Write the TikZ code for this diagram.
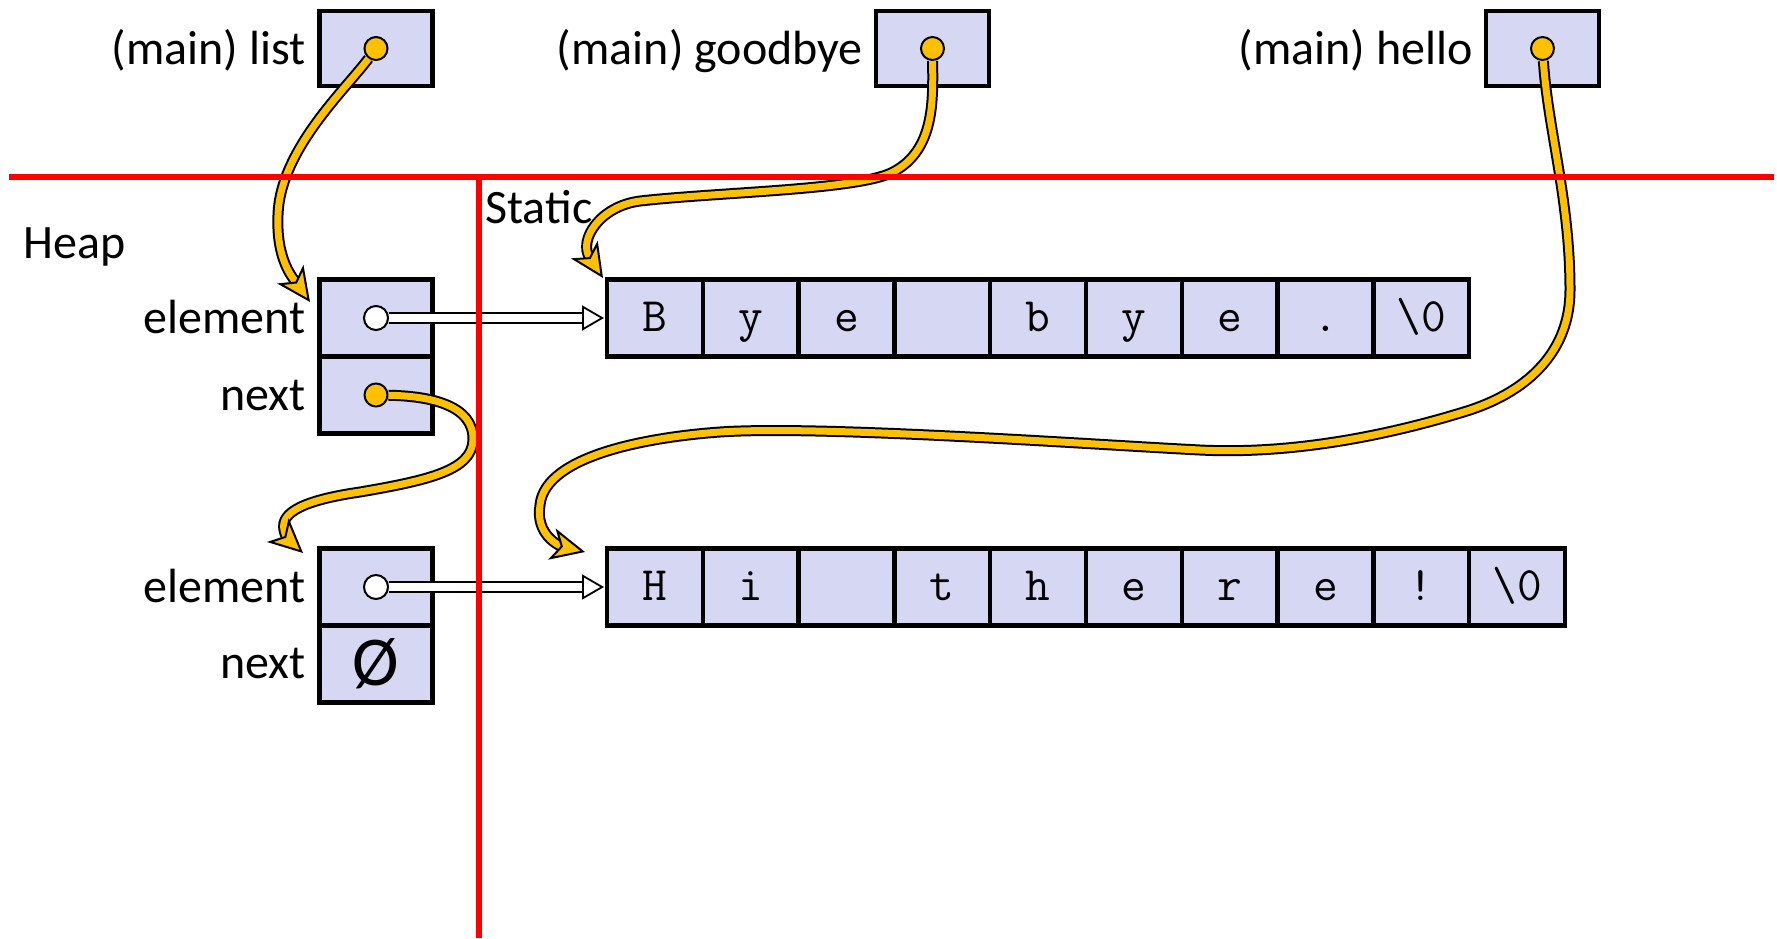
\documentclass[tikz,border=0pt]{standalone}
\usepackage{fontspec}
\setmainfont{Carlito}
\usetikzlibrary{arrows.meta,calc}
\definecolor{cellfill}{RGB}{214,216,243}
\definecolor{ptryellow}{RGB}{255,192,0}
\definecolor{memred}{RGB}{255,0,0}
\tikzset{
  cell/.style={draw=black, fill=cellfill, line width=2.25pt, rectangle, inner sep=0pt, outer sep=0pt,
    minimum width=47.9pt, minimum height=38.5pt, font=\ttfamily\fontsize{24}{24}\selectfont,
    text height=13pt, text depth=0pt},
  hbox/.style={draw=black, fill=cellfill, line width=2.25pt, rectangle, inner sep=0pt, outer sep=0pt,
    minimum width=56.5pt, minimum height=38.5pt},
  vbox/.style={hbox, minimum height=37.5pt},
  lbl/.style={inner sep=0pt, font=\fontsize{24}{24}\selectfont},
  ydot/.style={circle, fill=ptryellow, draw=black, line width=1pt, minimum size=11.5pt, inner sep=0pt},
  wdot/.style={circle, fill=white, draw=black, line width=1pt, minimum size=12pt, inner sep=0pt},
  ptr/.style={draw=ptryellow, line width=3.5pt,
    -{Stealth[length=17pt, width=16pt, inset=4.5pt, color=black, fill=ptryellow, line width=1pt]},
    preaction={draw=black, line width=5.5pt, arrows=-, shorten >=12pt}},
  dblshaft/.style={draw=black, line width=0.9pt, double=white, double distance=4pt},
  dblhead/.style={draw=black, line width=0.9pt, -{Triangle[length=11pt, width=12.5pt, fill=white]}},
  memline/.style={draw=memred, line width=2.6pt},
}
\begin{document}
\begin{tikzpicture}[x=0.5pt, y=-0.5pt]
\useasboundingbox (0,0) rectangle (1777,938);
\fill[white] (0,0) rectangle (1777,938);

% stack variables
\node[vbox] (list) at (376,48.5) {};
\node[vbox] (goodbye) at (932.5,48.5) {};
\node[vbox] (hello) at (1542.5,48.5) {};
\node[lbl, anchor=base east] (llist) at (306,64) {(main) list};
\node[lbl, anchor=base east] (lgood) at (863,64) {(main) goodbye};
\node[lbl, anchor=base east] (lhello) at (1473,64) {(main) hello};

% region labels
\node[lbl, anchor=base west] (heap) at (23,258) {Heap};
\node[lbl, anchor=base west] (static) at (485,223) {Static};

% heap list nodes
\node[hbox] (e1) at (376,318) {};
\node[hbox] (n1) at (376,395) {};
\node[hbox] (e2) at (376,587) {};
\node[hbox, font=\fontsize{35}{35}\selectfont] (n2) at (376,664) {Ø};
\node[lbl, anchor=base east] (le1) at (306,333) {element};
\node[lbl, anchor=base east] (ln1) at (306,410) {next};
\node[lbl, anchor=base east] (le2) at (306,602) {element};
\node[lbl, anchor=base east] (ln2) at (306,678) {next};

% static strings
\foreach \ch [count=\i] in {B,y,e,{},b,y,e,.,\textbackslash 0}
  \node[cell] (b\i) at ({654.9+95.8*(\i-1)},318) {\ch};
\foreach \ch [count=\i] in {H,i,{},t,h,e,r,e,!,\textbackslash 0}
  \node[cell] (h\i) at ({654.9+95.8*(\i-1)},587) {\ch};

% element pointers (white)
\node[wdot] (we1) at (e1.center) {};
\node[wdot] (we2) at (e2.center) {};
\draw[dblshaft] (we1) -- ([xshift=-10pt]b1.west);
\draw[dblhead] ([xshift=-12.5pt]b1.west) -- ([xshift=-1.5pt]b1.west);
\draw[dblshaft] (we2) -- ([xshift=-10pt]h1.west);
\draw[dblhead] ([xshift=-12.5pt]h1.west) -- ([xshift=-1.5pt]h1.west);

% yellow pointers
\node[ydot] (pl) at (list.center) {};
\node[ydot] (pg) at (goodbye.center) {};
\node[ydot] (ph) at (hello.center) {};
\node[ydot] (pn) at (n1.center) {};
\coordinate (ltip) at (310,302);
\coordinate (gtip) at (603,278);
\coordinate (htip) at (585,552);
\coordinate (ntip) at (303,553);

\draw[ptr] (pl) .. controls (345,90) and (280,150) .. (278,215)
  .. controls (276,260) and (293,278) .. (ltip);
\draw[ptr] (pg) .. controls (933,100) and (935,150) .. (893,172)
  .. controls (859,190) and (720,192) .. (640,201)
  .. controls (600,206) and (578,240) .. (gtip);
\draw[ptr] (ph) .. controls (1548,130) and (1570,200) .. (1570,290)
  .. controls (1570,350) and (1530,390) .. (1470,410)
  .. controls (1400,432) and (1300,455) .. (1200,450)
  .. controls (1100,445) and (820,425) .. (720,432)
  .. controls (650,437) and (545,455) .. (540,505)
  .. controls (535,535) and (560,546) .. (htip);
\draw[ptr] (pn) .. controls (430,396) and (474,405) .. (473,440)
  .. controls (472,470) and (430,480) .. (360,492)
  .. controls (305,500) and (280,512) .. (284,530)
  .. controls (286,540) and (292,543) .. (ntip);

% memory region boundaries
\coordinate (hl) at (9,177);
\coordinate (hr) at (1774,177);
\coordinate (vt) at (479,177);
\coordinate (vb) at (479,938);
\draw[memline] (hl) -- (hr);
\draw[memline] (vt) -- (vb);
\end{tikzpicture}
\end{document}
